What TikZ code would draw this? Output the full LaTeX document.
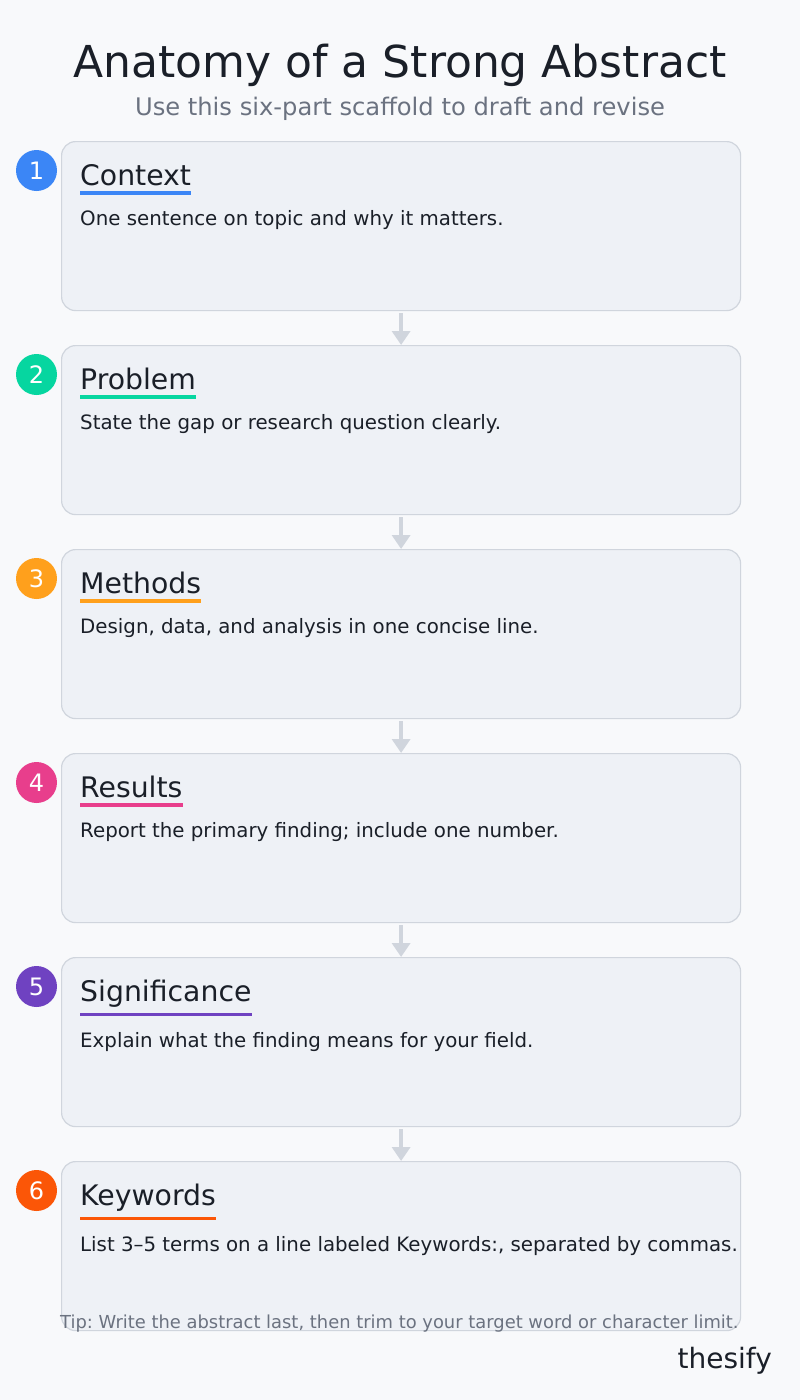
\documentclass[tikz,border=0pt]{standalone}
\usepackage{fontspec}
\setmainfont{DejaVu Sans}
\usepackage{xcolor}
\usepackage{tikz}
\usetikzlibrary{arrows.meta}
\definecolor{pagebg}{HTML}{F8F9FB}
\definecolor{cardfill}{HTML}{EEF1F6}
\definecolor{cardline}{HTML}{D0D5DD}
\definecolor{flowgray}{HTML}{D0D5DD}
\definecolor{ink}{HTML}{1A1F28}
\definecolor{muted}{HTML}{6B7280}
\definecolor{cblue}{HTML}{3B86F6}
\definecolor{cgreen}{HTML}{06D6A0}
\definecolor{corange}{HTML}{FFA01C}
\definecolor{cpink}{HTML}{E83E8C}
\definecolor{cpurple}{HTML}{6F42C1}
\definecolor{cred}{HTML}{FB5607}
\newcommand{\fsz}[1]{\fontsize{#1}{#1}\selectfont}
\frenchspacing

\begin{document}
\begin{tikzpicture}[x=1pt,y=-1pt,
  card/.style={draw=cardline,fill=cardfill,line width=1.2pt,rounded corners=14pt,
    minimum width=679pt,minimum height=169pt,anchor=north west,inner sep=0pt},
  badge/.style={circle,fill=#1,text=white,minimum size=41pt,inner sep=0pt,font=\fsz{24}},
  head/.style={anchor=base west,inner sep=0pt,text=ink,font=\fsz{28.3}},
  desc/.style={anchor=base west,inner sep=0pt,text=ink,font=\fsz{19.8}},
  rule/.style={draw=#1,line width=3.5pt},
  flow/.style={draw=flowgray,line width=4.5pt,-{Triangle[width=18pt,length=14pt]},shorten <=2pt}]
\fill[pagebg] (0,0) rectangle (800,1400);

\node[anchor=base,text=ink,font=\fsz{44}] (title) at (400,77) {Anatomy of a Strong Abstract};
\node[anchor=base,text=muted,font=\fsz{24.2}] (subtitle) at (400,115.5) {Use this six-part scaffold to draft and revise};

\node[card] (context) at (61,141) {};
\node[badge=cblue] (b1) at (36.5,170.5) {1};
\node[head] (hcontext) at (80,185.5) {Context};
\draw[rule=cblue] ([yshift=-7pt]hcontext.south west) -- ([yshift=-7pt]hcontext.south east);
\node[desc] (dcontext) at ([yshift=-39.5pt]hcontext.south west) {One sentence on topic and why it matters.};

\node[card] (problem) at (61,345) {};
\node[badge=cgreen] (b2) at (36.5,374.5) {2};
\node[head] (hproblem) at (80,389.5) {Problem};
\draw[rule=cgreen] ([yshift=-7pt]hproblem.south west) -- ([yshift=-7pt]hproblem.south east);
\node[desc] (dproblem) at ([yshift=-39.5pt]hproblem.south west) {State the gap or research question clearly.};

\node[card] (methods) at (61,549) {};
\node[badge=corange] (b3) at (36.5,578.5) {3};
\node[head] (hmethods) at (80,593.5) {Methods};
\draw[rule=corange] ([yshift=-7pt]hmethods.south west) -- ([yshift=-7pt]hmethods.south east);
\node[desc] (dmethods) at ([yshift=-39.5pt]hmethods.south west) {Design, data, and analysis in one concise line.};

\node[card] (results) at (61,753) {};
\node[badge=cpink] (b4) at (36.5,782.5) {4};
\node[head] (hresults) at (80,797.5) {Results};
\draw[rule=cpink] ([yshift=-7pt]hresults.south west) -- ([yshift=-7pt]hresults.south east);
\node[desc] (dresults) at ([yshift=-39.5pt]hresults.south west) {Report the primary finding; include one number.};

\node[card] (significance) at (61,957) {};
\node[badge=cpurple] (b5) at (36.5,986.5) {5};
\node[head] (hsignificance) at (80,1001.5) {Significance};
\draw[rule=cpurple] ([yshift=-7pt]hsignificance.south west) -- ([yshift=-7pt]hsignificance.south east);
\node[desc] (dsignificance) at ([yshift=-39.5pt]hsignificance.south west) {Explain what the finding means for your field.};

\node[card] (keywords) at (61,1161) {};
\node[badge=cred] (b6) at (36.5,1190.5) {6};
\node[head] (hkeywords) at (80,1205.5) {Keywords};
\draw[rule=cred] ([yshift=-7pt]hkeywords.south west) -- ([yshift=-7pt]hkeywords.south east);
\node[desc] (dkeywords) at ([yshift=-39.5pt]hkeywords.south west) {List 3–5 terms on a line labeled Keywords:, separated by commas.};

% arrows between the cards
\draw[flow] (context.south) -- (problem.north);
\draw[flow] (problem.south) -- (methods.north);
\draw[flow] (methods.south) -- (results.north);
\draw[flow] (results.south) -- (significance.north);
\draw[flow] (significance.south) -- (keywords.north);

\node[anchor=base west,inner sep=0pt,text=muted,font=\fsz{17.9}] (tip) at (60,1328)
  {Tip: Write the abstract last, then trim to your target word or character limit.};
\node[anchor=base east,inner sep=0pt,text=ink,font=\fsz{28}] (brand) at (772,1368) {thesify};
\end{tikzpicture}
\end{document}
